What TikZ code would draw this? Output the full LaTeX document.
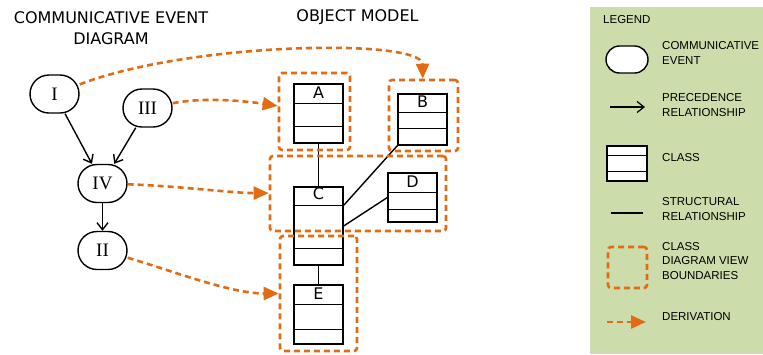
\documentclass[tikz,border=0pt]{standalone}
\usepackage{fontspec}
\setmainfont{Liberation Serif}
\newfontfamily\titlefont{DejaVu Sans}
\newfontfamily\legendfont{Liberation Sans}
\usetikzlibrary{arrows.meta}

\definecolor{derivorange}{RGB}{226,108,20}
\definecolor{legendgreen}{RGB}{204,220,170}

\tikzset{
  event/.style={draw, line width=1.4pt, rounded corners=19pt, minimum width=49pt, minimum height=38pt, inner sep=0pt, font=\fontsize{19}{19}\selectfont},
  classbox/.style={draw, line width=1.3pt, fill=white, minimum width=49pt, inner sep=0pt},
  classline/.style={line width=1.3pt},
  classname/.style={inner sep=0pt, font=\titlefont\fontsize{16}{16}\selectfont},
  titletext/.style={align=center, inner sep=0pt, font=\titlefont\fontsize{16}{21}\selectfont},
  viewbox/.style={draw=derivorange, line width=2.6pt, dash pattern=on 6pt off 4pt, rounded corners=3pt, inner sep=0pt},
  derivation/.style={draw=derivorange, line width=2.6pt, dash pattern=on 6pt off 4pt, -{Triangle[length=15pt,width=13pt]}},
  precedence/.style={line width=1.4pt, -{Straight Barb[length=7pt,width=11pt]}},
  structural/.style={line width=1.4pt},
  legendtext/.style={anchor=west, align=left, inner sep=0pt, font=\legendfont\fontsize{11.5}{14.5}\selectfont},
}

\begin{document}
\begin{tikzpicture}[x=1pt, y=-1pt]
    \useasboundingbox (0,0) rectangle (763,354);

    \node[titletext] (cedtitle) at (111,28) {COMMUNICATIVE EVENT\\DIAGRAM};
    \node[titletext] (omtitle) at (357.5,17.5) {OBJECT MODEL};

    % communicative events
    \node[event] (I) at (54.5,94) {I};
    \node[event] (III) at (147.5,108) {III};
    \node[event] (IV) at (102.5,183.5) {IV};
    \node[event] (II) at (102.5,250.5) {II};

    \draw[precedence] (I) -- (IV);
    \draw[precedence] (III) -- (IV);
    \draw[precedence] (IV) -- (II);

    % classes
    \node[classbox, minimum height=59pt] (A) at (318.5,113.5) {};
    \node[classbox, minimum height=51pt] (B) at (422.5,119.5) {};
    \node[classbox, minimum height=78pt] (C) at (318.5,226) {};
    \node[classbox, minimum height=49pt] (D) at (412.5,197.5) {};
    \node[classbox, minimum height=59pt] (E) at (318.5,314.5) {};

    \node[classname] (Aname) at ([yshift=-9pt]A.north) {A};
    \node[classname] (Bname) at ([yshift=-8pt]B.north) {B};
    \node[classname] (Cname) at ([yshift=-7pt]C.north) {C};
    \node[classname] (Dname) at ([yshift=-9pt]D.north) {D};
    \node[classname] (Ename) at ([yshift=-9.5pt]E.north) {E};

    \draw[classline] ([yshift=-20pt]A.north west) -- ([yshift=-20pt]A.north east);
    \draw[classline] ([yshift=-43pt]A.north west) -- ([yshift=-43pt]A.north east);
    \draw[classline] ([yshift=-19pt]B.north west) -- ([yshift=-19pt]B.north east);
    \draw[classline] ([yshift=-35pt]B.north west) -- ([yshift=-35pt]B.north east);
    \draw[classline] ([yshift=-19pt]C.north west) -- ([yshift=-19pt]C.north east);
    \draw[classline] ([yshift=-62pt]C.north west) -- ([yshift=-62pt]C.north east);
    \draw[classline] ([yshift=-20pt]D.north west) -- ([yshift=-20pt]D.north east);
    \draw[classline] ([yshift=-37pt]D.north west) -- ([yshift=-37pt]D.north east);
    \draw[classline] ([yshift=-20pt]E.north west) -- ([yshift=-20pt]E.north east);
    \draw[classline] ([yshift=-45pt]E.north west) -- ([yshift=-45pt]E.north east);

    \draw[structural] (A) -- (C);
    \draw[structural] (B.south west) -- ([yshift=-19pt]C.north east);
    \draw[structural] (D.west) -- (C.east);
    \draw[structural] (C) -- (E);

    % class diagram views
    \node[viewbox, minimum width=71pt, minimum height=77pt] (viewA) at (314.5,111.5) {};
    \node[viewbox, minimum width=69pt, minimum height=71pt] (viewB) at (423.5,115.5) {};
    \node[viewbox, minimum width=176pt, minimum height=75pt] (viewCD) at (358,193.5) {};
    \node[viewbox, minimum width=77pt, minimum height=115pt] (viewE) at (318.5,293.5) {};

    \draw[derivation] (I) .. controls (190,42) and (422,38) .. (viewB);
    \draw[derivation] (III) .. controls (205,97) and (245,101) .. (viewA);
    \draw[derivation] (IV) .. controls (180,186) and (230,193) .. (viewCD);
    \draw[derivation] (II) .. controls (170,270) and (230,293.5) .. (viewE);

    % legend
    \node[fill=legendgreen, minimum width=173pt, minimum height=347pt, inner sep=0pt] (legendpanel) at (676.5,180.5) {};
    \node[legendtext] (legendtitle) at (603,19.5) {LEGEND};

    \node[event, fill=white, minimum width=42pt, minimum height=27pt, rounded corners=13.5pt] (keyevent) at (627,59.5) {};
    \node[legendtext] (keyeventtext) at (662,53) {COMMUNICATIVE\\EVENT};

    \coordinate (keyprecfrom) at (610,107);
    \coordinate (keyprecto) at (645,107);
    \draw[precedence, line width=1.2pt] (keyprecfrom) -- (keyprecto);
    \node[legendtext] (keyprectext) at (662,105) {PRECEDENCE\\RELATIONSHIP};

    \node[classbox, minimum width=40pt, minimum height=35pt] (keyclass) at (627,163.5) {};
    \draw[classline] ([yshift=-10pt]keyclass.north west) -- ([yshift=-10pt]keyclass.north east);
    \draw[classline] ([yshift=-26pt]keyclass.north west) -- ([yshift=-26pt]keyclass.north east);
    \node[legendtext] (keyclasstext) at (662,158) {CLASS};

    \coordinate (keystructfrom) at (611,213);
    \coordinate (keystructto) at (643,213);
    \draw[structural, line width=1.2pt] (keystructfrom) -- (keystructto);
    \node[legendtext] (keystructtext) at (662,209) {STRUCTURAL\\RELATIONSHIP};

    \node[viewbox, minimum width=39pt, minimum height=41pt] (keyview) at (627.5,267.5) {};
    \node[legendtext] (keyviewtext) at (662,261) {CLASS\\DIAGRAM VIEW\\BOUNDARIES};

    \coordinate (keyderivfrom) at (607,322);
    \coordinate (keyderivto) at (646,322);
    \draw[derivation] (keyderivfrom) -- (keyderivto);
    \node[legendtext] (keyderivtext) at (662,316.5) {DERIVATION};
\end{tikzpicture}
\end{document}
